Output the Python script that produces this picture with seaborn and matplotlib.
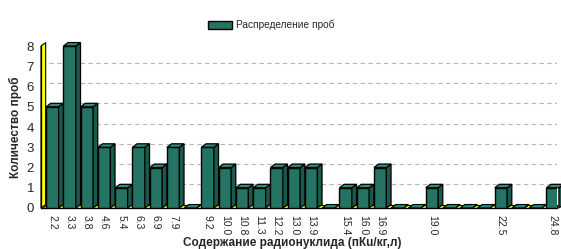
import matplotlib
matplotlib.use("Agg")
import matplotlib.pyplot as plt
from matplotlib.patches import Polygon
import seaborn as sns
import pandas as pd

categories = ["2.2", "3.3", "3.8", "4.6", "5.4", "6.3", "6.9", "7.9", " 1",
              "9.2", "10.0", "10.8", "11.3", "12.2", "13.0", "13.9", " 2",
              "15.4", "16.0", "16.9", " 3", " 4", "19.0", " 5", " 6", " 7",
              "22.5", " 8", " 9", "24.8"]
counts = [5, 8, 5, 3, 1, 3, 2, 3, 0, 3, 2, 1, 1, 2, 2, 2, 0,
          1, 1, 2, 0, 0, 1, 0, 0, 0, 1, 0, 0, 1]
tick_labels = [c if not c.startswith(" ") else "" for c in categories]
series_name = "Распределение проб"
y_ticks = [0, 1, 2, 3, 4, 5, 6, 7, 8]

df = pd.DataFrame({"cat": categories, "n": counts})

sns.set_style("white")
plt.rcParams["font.family"] = ["Liberation Sans", "DejaVu Sans"]

fig = plt.figure(figsize=(5.61, 2.49), dpi=100)
ax = fig.add_axes([41 / 561, 1 - 208 / 249, 516 / 561, 162 / 249])

green = "#247363"
sns.barplot(data=df, x="cat", y="n", color=green, width=0.72,
            edgecolor="black", linewidth=1.0, ax=ax, zorder=3,
            saturation=1, label=series_name)

ax.set_xlim(-0.66, len(categories) - 0.75)
ax.set_ylim(0, 8)

dx = 0.27   # depth in x data units
dy = 0.17   # depth in y data units

x0, x1 = ax.get_xlim()
# yellow floor
floor = Polygon([(x0, 0), (x1, 0), (x1, dy), (x0 + dx, dy)],
                closed=True, facecolor="#ffff00", edgecolor="black",
                linewidth=0.8, zorder=1, clip_on=False)
ax.add_patch(floor)
# yellow left wall
wall = Polygon([(x0, 0), (x0 + dx, dy), (x0 + dx, 8 + dy), (x0, 8)],
               closed=True, facecolor="#ffff00", edgecolor="black",
               linewidth=0.8, zorder=2, clip_on=False)
ax.add_patch(wall)

# gridlines on back wall
for v in y_ticks[1:-1]:
    ax.plot([x0 + dx + 0.2, x1], [v + dy, v + dy], color="#b4b4b4",
            linestyle=(0, (4, 3)), linewidth=0.8, zorder=0.5)

# 3D faces for bars
for p in list(ax.patches[:len(categories)]):
    bx, bw, bh = p.get_x(), p.get_width(), p.get_height()
    top = Polygon([(bx, bh), (bx + dx, bh + dy), (bx + bw + dx, bh + dy), (bx + bw, bh)],
                  closed=True, facecolor="#2e8c78", edgecolor="black",
                  linewidth=0.9, zorder=3.5, clip_on=False)
    side = Polygon([(bx + bw, 0), (bx + bw + dx, dy), (bx + bw + dx, bh + dy), (bx + bw, bh)],
                   closed=True, facecolor="#1a5a4c", edgecolor="black",
                   linewidth=0.9, zorder=3.4, clip_on=False)
    ax.add_patch(side)
    ax.add_patch(top)

ax.set_yticks(y_ticks)
ax.set_yticklabels([str(v) for v in y_ticks], fontsize=9.5)
ax.set_xticks(range(len(categories)))
ax.set_xticklabels(tick_labels, rotation=270, fontsize=7.5, va="top", ha="center")
ax.tick_params(axis="both", which="both", direction="out", length=3,
               width=0.8, color="black", pad=2)
ax.tick_params(axis="x", pad=2)

for s in ["top", "right"]:
    ax.spines[s].set_visible(False)
ax.spines["left"].set_color("black")
ax.spines["bottom"].set_color("black")
ax.spines["left"].set_linewidth(0.9)
ax.spines["bottom"].set_linewidth(0.9)

ax.set_xlabel("Содержание радионуклида (пКu/кг,л)", fontsize=8.5,
              fontweight="bold")
ax.xaxis.set_label_coords((292 - 41) / 516, (208 - 237) / 162)
ax.set_ylabel("Количество проб", fontsize=8.5, fontweight="bold")
ax.yaxis.set_label_coords((22 - 41) / 516, 0.5)

ax.legend(loc="center", bbox_to_anchor=(271 / 561, 1 - 25 / 249),
          bbox_transform=fig.transFigure, frameon=False,
          fontsize=7.3, handlelength=2.4, handleheight=0.9, handletextpad=0.4)

fig.savefig("out.png", dpi=100)
